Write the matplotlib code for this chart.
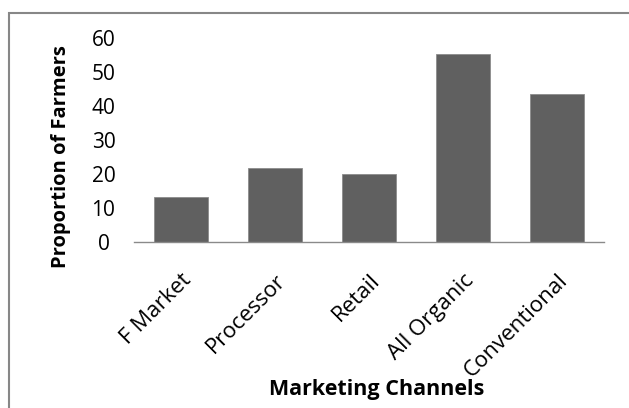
import matplotlib
matplotlib.use("Agg")
import matplotlib.pyplot as plt
from matplotlib.patches import Rectangle
from matplotlib.transforms import ScaledTranslation

categories = ["F Market", "Processor", "Retail", "All Organic", "Conventional"]
values = [13.4, 21.9, 20.1, 55.4, 43.7]
yticks = [0, 10, 20, 30, 40, 50, 60]

plt.rcParams['font.family'] = ['Open Sans', 'DejaVu Sans']

W, H = 629, 408
fig = plt.figure(figsize=(W/100, H/100), dpi=100)
fig.patches.append(Rectangle((9/W, -0.05), 1.0, 1 - 13/H + 0.05, transform=fig.transFigure,
                             fill=False, edgecolor='#878787', linewidth=1.5))
ax = fig.add_axes([134/W, 1 - 242/H, 470/W, 203.5/H])
x = range(len(categories))
ax.bar(x, values, width=0.565, color='#606060', edgecolor='#8c8c8c', linewidth=0.6, zorder=2)
ax.set_xlim(-0.5, len(categories) - 0.5)
ax.set_ylim(0, 60)
ax.set_yticks(yticks)
ax.set_yticklabels([str(t) for t in yticks], fontsize=15, ha='center')
ax.set_xticks(list(x))
ax.set_xticklabels(categories, rotation=45, ha='right', rotation_mode='anchor', fontsize=16)
off = ScaledTranslation(2/100, 0, fig.dpi_scale_trans)
for lbl in ax.get_xticklabels():
    lbl.set_transform(lbl.get_transform() + off)
ax.tick_params(axis='both', length=0)
ax.tick_params(axis='y', pad=22)
ax.tick_params(axis='x', pad=20)
for s in ['top', 'right', 'left']:
    ax.spines[s].set_visible(False)
ax.spines['bottom'].set_color('#8a8a8a')
ax.spines['bottom'].set_linewidth(1.0)
fig.text(61/W, 1 - 157/H, "Proportion of Farmers", fontsize=14.5, fontweight='bold',
         rotation=90, ha='center', va='center')
fig.text(377/W, 1 - 390/H, "Marketing Channels", fontsize=15.5, fontweight='bold',
         ha='center', va='center')
fig.savefig("out.png", dpi=100)
